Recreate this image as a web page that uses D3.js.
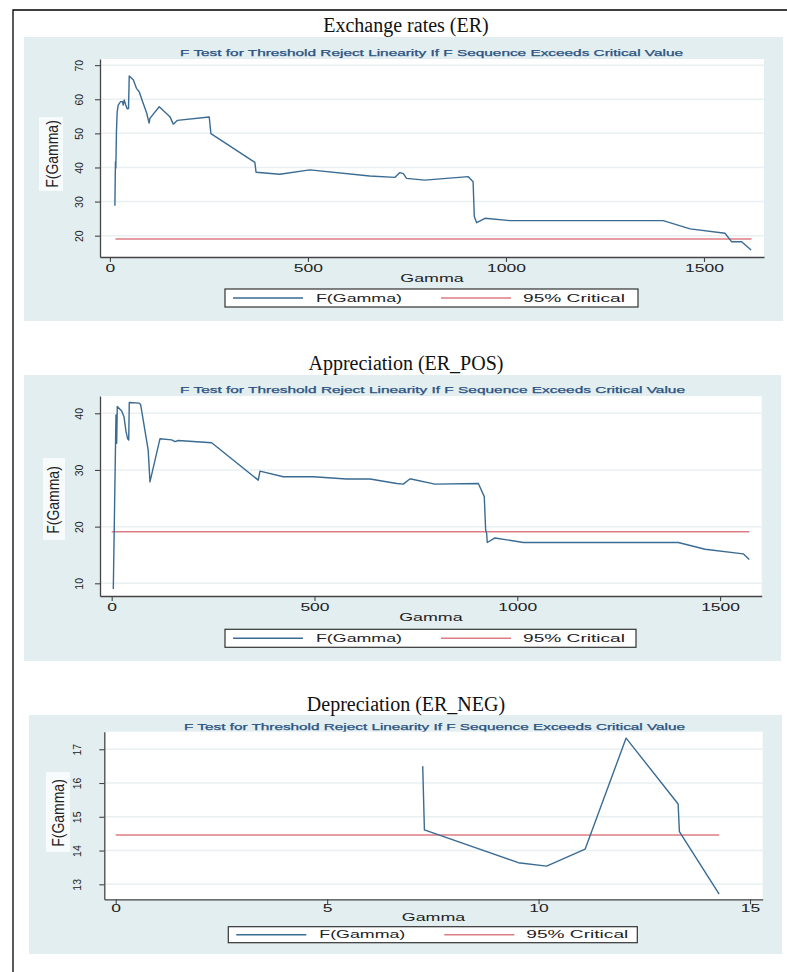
<!DOCTYPE html>
<html>
<head>
<meta charset="utf-8">
<script src="https://cdn.jsdelivr.net/npm/d3@7"></script>
<style>
  body { margin: 0; background: #fff; }
  svg { display: block; }
</style>
</head>
<body>
<div id="container"></div>
<script>
// ---- data ----
const subtitle = "F Test for Threshold Reject Linearity If F Sequence Exceeds Critical Value";
const legendLabels = ["F(Gamma)", "95% Critical"];
const yTitle = "F(Gamma)";
const xTitle = "Gamma";

// Exchange rates (ER)
const erGamma = [12.6, 14, 15, 16.5, 18.4, 21, 27, 32, 33.6, 36, 40, 43.7, 47, 48.8, 59, 67, 74, 84, 93, 99, 101,
  124.5, 151.5, 160, 170, 250.8, 255, 366, 369, 429, 505, 656, 720, 732, 741, 749, 795, 905, 917, 920, 926, 947,
  1010, 1397, 1465, 1553, 1570, 1595, 1619];
const erF = [28.8, 41.7, 39.8, 50.5, 56.4, 58.3, 59.3, 59.3, 58.3, 59.8, 58.3, 57.2, 57.3, 66.8, 65.7, 63.2, 62.2, 58.8, 55.9, 53.0, 54.4,
  57.8, 54.9, 52.7, 53.8, 54.8, 49.9, 41.5, 38.6, 38.0, 39.3, 37.5, 37.1, 38.5, 38.2, 36.8, 36.3, 37.3, 35.8, 25.6, 23.8, 25.1,
  24.4, 24.4, 22.0, 20.7, 18.2, 18.2, 15.8];
const erCritGamma = [14, 1620];
const erCritF = [19.03, 19.03];
const erXTicks = [0, 500, 1000, 1500];
const erYTicks = [20, 30, 40, 50, 60, 70];

// Appreciation (ER_POS)
const posGamma = [4, 10.6, 12.3, 13.8, 24.6, 30.3, 35.3, 39.4, 42, 43.4, 68, 71.5, 90, 94.4, 119, 148, 156, 164, 246.5,
  361.4, 365.6, 423, 497, 579, 637, 703, 719, 735, 738, 797, 904, 918.6, 922, 924.5, 926, 945, 1015, 1397, 1463, 1557, 1572];
const posF = [9.0, 39.7, 34.7, 41.2, 40.4, 39.4, 36.8, 35.5, 35.3, 41.9, 41.8, 41.5, 33.5, 27.9, 35.5, 35.3, 35.0, 35.2, 34.8,
  28.2, 29.8, 28.8, 28.8, 28.4, 28.4, 27.6, 27.5, 28.4, 28.4, 27.5, 27.6, 25.3, 19.4, 18.8, 17.2, 18.0, 17.2, 17.2, 16.0, 15.2, 14.2];
const posCritGamma = [0, 1572];
const posCritF = [19.1, 19.1];
const posXTicks = [0, 500, 1000, 1500];
const posYTicks = [10, 20, 30, 40];

// Depreciation (ER_NEG)
const negGamma = [7.26, 7.30, 9.52, 10.19, 11.10, 12.07, 13.30, 13.33, 14.27];
const negF = [16.5, 14.61, 13.64, 13.54, 14.04, 17.33, 15.38, 14.56, 12.71];
const negCritGamma = [0, 14.27];
const negCritF = [14.46, 14.46];
const negXTicks = [0, 5, 10, 15];
const negYTicks = [13, 14, 15, 16, 17];

// ---- chart setup ----
const width = 787;
const height = 972;
const blue = "#3a6b93";
const red = "#dc7d83";
const panelBg = "#e3eef0";
const gridColor = "#e8f0f2";
const navy = "#2a5280";
const sans = "'Liberation Sans', Arial, sans-serif";

const panels = [
  { title: "Exchange rates (ER)", gamma: erGamma, f: erF, critGamma: erCritGamma, critF: erCritF,
    xTicks: erXTicks, yTicks: erYTicks, xDomain: [-25, 1651.5], yDomain: [13.75, 71.8],
    bg: [24, 37, 759, 284], plot: [100, 59, 764, 257], titleY: 32, subY: 55.6, subX: [180, 683],
    xLabY: 272, xTitleY: 281.5, yLabX: 79, yTitleC: [52, 154], yBox: [39, 117, 24, 74],
    legend: [225, 289, 413, 18] },
  { title: "Appreciation (ER_POS)", gamma: posGamma, f: posF, critGamma: posCritGamma, critF: posCritF,
    xTicks: posXTicks, yTicks: posYTicks, xDomain: [-28.8, 1602.6], yDomain: [7.76, 43.05],
    bg: [24, 375, 757, 286], plot: [100, 396, 761.7, 596], titleY: 370, subY: 393, subX: [180, 685],
    xLabY: 611, xTitleY: 620.5, yLabX: 79, yTitleC: [53, 500], yBox: [43, 458, 22, 82],
    legend: [225, 629.3, 411, 18] },
  { title: "Depreciation (ER_NEG)", gamma: negGamma, f: negF, critGamma: negCritGamma, critF: negCritF,
    xTicks: negXTicks, yTicks: negYTicks, xDomain: [-0.27, 15.3], yDomain: [12.556, 17.52],
    bg: [29, 715, 753, 239], plot: [104.3, 731.7, 762.7, 899.3], titleY: 710.7, subY: 729.7, subX: [184, 685],
    xLabY: 912, xTitleY: 920.5, yLabX: 77.5, yTitleC: [58, 813], yBox: [46, 772, 24, 80],
    legend: [228.3, 926.7, 409, 16] }
];

const svg = d3.create("svg").attr("width", width).attr("height", height);
document.getElementById("container").appendChild(svg.node());

// page frame (left and top rules)
svg.append("path")
  .attr("d", `M13,${height} V10 H${width}`)
  .attr("fill", "none")
  .attr("stroke", "#000")
  .attr("stroke-width", 1.3);

function drawPanel(p) {
  const [left, top, right, bottom] = p.plot;
  const g = svg.append("g");

  g.append("rect")
    .attr("x", p.bg[0]).attr("y", p.bg[1]).attr("width", p.bg[2]).attr("height", p.bg[3])
    .attr("fill", panelBg);

  // big serif title above the panel
  svg.append("text")
    .attr("x", 406).attr("y", p.titleY)
    .attr("text-anchor", "middle")
    .attr("font-family", "'Liberation Serif', 'Times New Roman', serif")
    .attr("font-size", 20)
    .attr("fill", "#111")
    .text(p.title);

  // stata subtitle, stretched wide like the original
  g.append("text")
    .attr("x", p.subX[0]).attr("y", p.subY)
    .attr("font-family", sans)
    .attr("font-size", 8.5)
    .attr("fill", navy)
    .attr("stroke", navy).attr("stroke-width", 0.25)
    .attr("textLength", p.subX[1] - p.subX[0])
    .attr("lengthAdjust", "spacingAndGlyphs")
    .text(subtitle);

  const x = d3.scaleLinear().domain(p.xDomain).range([left, right]);
  const y = d3.scaleLinear().domain(p.yDomain).range([bottom, top]);

  g.append("rect")
    .attr("x", left).attr("y", top).attr("width", right - left).attr("height", bottom - top)
    .attr("fill", "#fff");

  // horizontal grid
  g.append("g")
    .selectAll("line")
    .data(p.yTicks)
    .join("line")
    .attr("x1", left).attr("x2", right)
    .attr("y1", d => y(d)).attr("y2", d => y(d))
    .attr("stroke", gridColor)
    .attr("stroke-width", 1.5);

  // x axis
  const xAxis = g.append("g")
    .attr("transform", `translate(0,${bottom})`)
    .call(d3.axisBottom(x).tickValues(p.xTicks).tickSize(5).tickSizeOuter(0).tickFormat(d3.format("d")));
  xAxis.select(".domain").attr("stroke", "#444").attr("stroke-width", 1.3);
  xAxis.selectAll(".tick line").attr("stroke", "#444").attr("stroke-width", 1.1);
  xAxis.selectAll(".tick text")
    .attr("y", p.xLabY - bottom).attr("dy", null)
    .attr("font-family", sans).attr("font-size", 10).attr("fill", "#222")
    .attr("transform", "scale(1.75,1)");

  // y axis, labels turned on their side
  const yAxis = g.append("g")
    .attr("transform", `translate(${left},0)`)
    .call(d3.axisLeft(y).tickValues(p.yTicks).tickSize(5).tickSizeOuter(0).tickFormat(d3.format("d")));
  yAxis.select(".domain").attr("stroke", "#444").attr("stroke-width", 1.3);
  yAxis.selectAll(".tick line").attr("stroke", "#444").attr("stroke-width", 1.1);
  yAxis.selectAll(".tick text")
    .attr("x", null).attr("dy", null)
    .attr("text-anchor", "middle")
    .attr("font-family", sans).attr("font-size", 10.5).attr("fill", "#222")
    .attr("transform", `translate(${p.yLabX - left},0) rotate(-90) translate(0,3.8)`);

  // axis titles
  g.append("text")
    .attr("transform", `translate(${(left + right) / 2},${p.xTitleY}) scale(1.7,1)`)
    .attr("text-anchor", "middle")
    .attr("font-family", sans).attr("font-size", 10.5).attr("fill", "#222")
    .text(xTitle);

  g.append("rect")
    .attr("x", p.yBox[0]).attr("y", p.yBox[1]).attr("width", p.yBox[2]).attr("height", p.yBox[3])
    .attr("fill", "#f8fbfb");
  g.append("text")
    .attr("transform", `translate(${p.yTitleC[0]},${p.yTitleC[1]}) scale(1.2,1) rotate(-90)`)
    .attr("text-anchor", "middle")
    .attr("dy", "0.35em")
    .attr("font-family", sans).attr("font-size", 14).attr("fill", "#222")
    .text(yTitle);

  const line = d3.line().x(d => x(d[0])).y(d => y(d[1]));

  // 95% critical value
  g.append("path")
    .datum(d3.zip(p.critGamma, p.critF))
    .attr("fill", "none")
    .attr("stroke", red)
    .attr("stroke-width", 1.6)
    .attr("d", line);

  // F sequence
  g.append("path")
    .datum(d3.zip(p.gamma, p.f))
    .attr("fill", "none")
    .attr("stroke", blue)
    .attr("stroke-width", 1.4)
    .attr("stroke-linejoin", "round")
    .attr("d", line);

  // legend
  const [lx, ly, lw, lh] = p.legend;
  const lg = g.append("g").attr("transform", `translate(${lx},${ly})`);
  lg.append("rect")
    .attr("width", lw).attr("height", lh)
    .attr("fill", "#fff").attr("stroke", "#333").attr("stroke-width", 1.2);
  const items = [
    { label: legendLabels[0], color: blue, x0: 8, x1: 78, tx: 91, tw: 86 },
    { label: legendLabels[1], color: red, x0: 216, x1: 286, tx: 298, tw: 102 }
  ];
  items.forEach(it => {
    lg.append("line")
      .attr("x1", it.x0).attr("x2", it.x1)
      .attr("y1", lh / 2).attr("y2", lh / 2)
      .attr("stroke", it.color).attr("stroke-width", 1.5);
    lg.append("text")
      .attr("x", it.tx).attr("y", lh / 2 + 3.7)
      .attr("font-family", sans).attr("font-size", 10).attr("fill", "#222")
      .attr("textLength", it.tw).attr("lengthAdjust", "spacingAndGlyphs")
      .text(it.label);
  });
}

panels.forEach(drawPanel);
</script>
</body>
</html>
